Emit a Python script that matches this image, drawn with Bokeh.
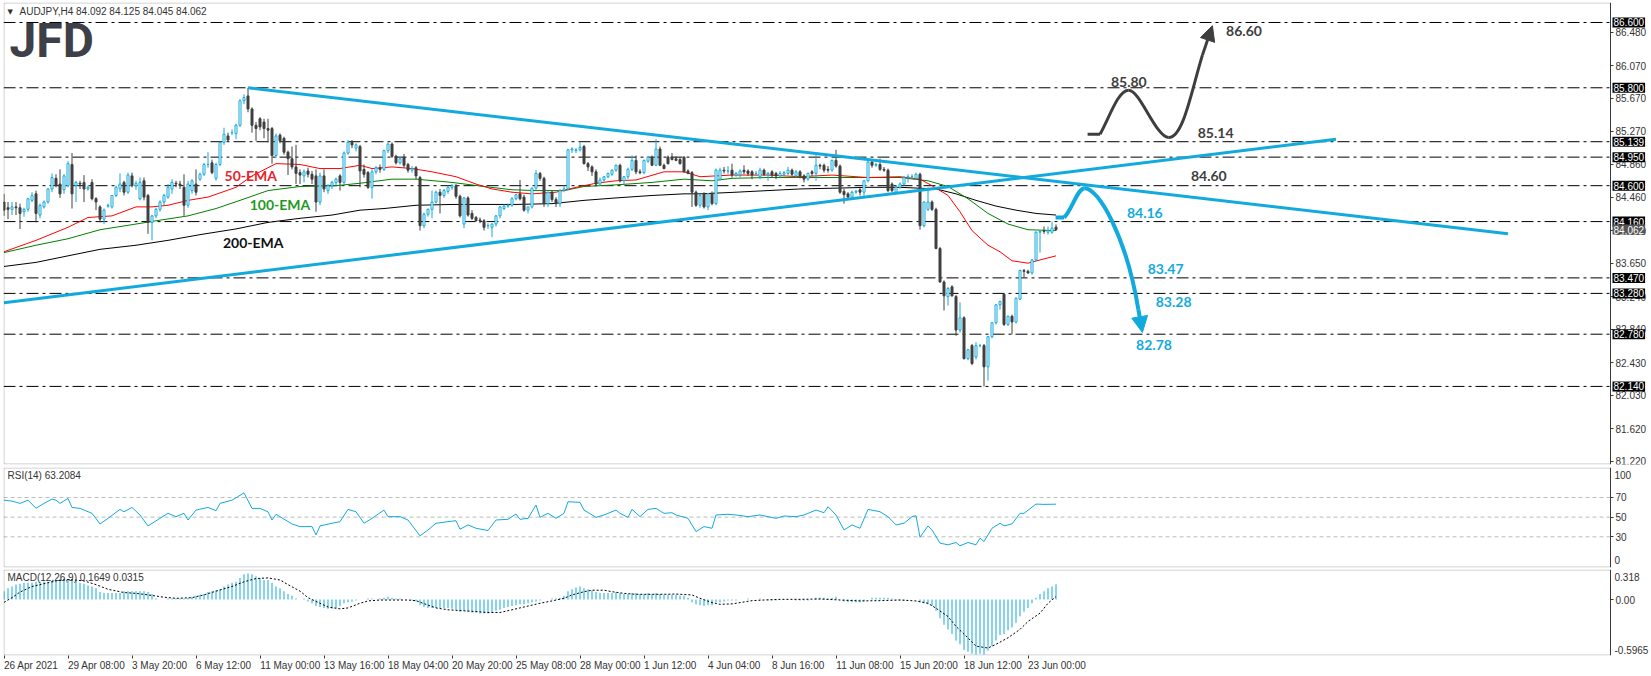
from bokeh.plotting import figure
from bokeh.models import (ColumnDataSource, Label, Range1d, FixedTicker, LinearAxis,
                          PrintfTickFormatter, Arrow, NormalHead, BoxAnnotation)
from bokeh.layouts import column
from bokeh.embed import file_html
from bokeh.resources import INLINE

# ---------------- data (AUDJPY H4) ----------------
opens = [84.40,84.33,84.31,84.34,84.33,84.28,84.31,84.42,84.50,84.24,
         84.34,84.40,84.56,84.69,84.62,84.55,84.60,84.86,84.60,84.63,
         84.64,84.56,84.64,84.44,84.34,84.19,84.35,84.34,84.48,84.56,
         84.64,84.52,84.72,84.60,84.44,84.66,84.48,84.15,84.23,84.31,
         84.40,84.46,84.56,84.63,84.62,84.58,84.36,84.54,84.62,84.68,
         84.74,84.86,84.88,84.69,84.86,85.13,85.21,85.25,85.24,85.34,
         85.64,85.70,85.54,85.34,85.42,85.38,85.30,85.30,84.97,85.22,
         85.18,85.01,84.93,84.83,84.76,84.72,84.78,84.74,84.72,84.40,
         84.72,84.54,84.60,84.64,84.72,84.64,85.00,85.13,85.06,85.08,
         84.80,84.76,84.58,84.77,84.82,84.80,85.03,85.11,84.96,84.88,
         84.95,84.86,84.79,84.82,84.70,84.11,84.25,84.31,84.40,84.52,
         84.48,84.53,84.58,84.60,84.47,84.13,84.45,84.26,84.21,84.18,
         84.17,84.11,84.09,84.13,84.23,84.32,84.35,84.36,84.44,84.50,
         84.46,84.30,84.34,84.57,84.75,84.69,84.38,84.52,84.43,84.38,
         84.54,84.56,85.04,85.03,85.04,85.08,84.87,84.83,84.77,84.62,
         84.67,84.71,84.74,84.79,84.85,84.66,84.71,84.80,84.91,84.77,
         84.76,84.90,84.95,84.85,85.05,84.85,84.95,84.95,84.93,84.92,
         84.95,84.78,84.76,84.52,84.36,84.50,84.34,84.50,84.38,84.68,
         84.79,84.78,84.79,84.73,84.73,84.79,84.78,84.77,84.75,84.71,
         84.79,84.73,84.77,84.75,84.72,84.74,84.75,84.79,84.72,84.77,
         84.72,84.68,84.77,84.75,84.85,84.85,84.80,84.79,84.91,84.84,
         84.53,84.50,84.46,84.52,84.55,84.52,84.66,84.89,84.85,84.86,
         84.80,84.79,84.62,84.52,84.58,84.62,84.70,84.71,84.69,84.74,
         84.11,84.31,84.40,84.31,83.83,83.42,83.24,83.36,83.24,82.83,
         82.98,82.48,82.64,82.50,82.64,82.64,82.38,82.75,82.92,83.14,
         83.27,82.90,83.00,82.93,83.21,83.56,83.55,83.53,83.69,84.03,
         84.05,84.03,84.03,84.092]
highs = [84.50,84.40,84.40,84.40,84.38,84.33,84.45,84.52,84.54,84.38,
         84.42,84.57,84.75,84.74,84.80,84.74,84.90,85.00,84.66,84.66,
         84.73,84.60,84.68,84.46,84.36,84.32,84.38,84.48,84.60,84.75,
         84.66,84.76,84.76,84.66,84.70,84.70,84.50,84.24,84.33,84.42,
         84.50,84.62,84.68,84.66,84.66,84.74,84.66,84.68,84.80,84.76,
         84.88,85.01,84.92,84.88,85.14,85.31,85.25,85.29,85.36,85.66,
         85.72,85.80,85.56,85.38,85.44,85.42,85.42,85.32,85.24,85.24,
         85.20,85.03,85.08,85.10,84.80,84.80,84.82,84.78,84.80,84.76,
         84.80,84.62,84.66,84.70,84.74,85.02,85.16,85.16,85.12,85.10,
         84.86,84.78,84.80,84.84,84.86,85.04,85.13,85.13,84.98,84.95,
         84.99,84.88,84.84,84.84,84.72,84.27,84.32,84.54,84.54,84.56,
         84.56,84.60,84.62,84.62,84.49,84.46,84.47,84.30,84.23,84.21,
         84.19,84.14,84.14,84.24,84.35,84.37,84.38,84.46,84.50,84.67,
         84.49,84.34,84.58,84.79,84.77,84.71,84.52,84.54,84.46,84.56,
         84.60,85.05,85.07,85.06,85.13,85.10,84.89,84.85,84.80,84.70,
         84.72,84.76,84.80,84.86,84.87,84.72,84.82,84.97,84.97,84.80,
         84.92,84.96,84.97,85.17,85.08,84.87,84.97,85.00,84.96,84.95,
         84.96,84.80,84.78,84.54,84.50,84.52,84.51,84.53,84.81,84.82,
         84.83,84.84,84.87,84.77,84.80,84.85,84.80,84.79,84.78,84.82,
         84.81,84.77,84.79,84.77,84.78,84.78,84.83,84.81,84.79,84.79,
         84.74,84.76,84.79,85.01,84.87,84.87,84.84,84.92,85.04,84.86,
         84.56,84.52,84.54,84.55,84.57,84.67,84.90,84.91,84.88,84.93,
         84.83,84.81,84.64,84.60,84.64,84.72,84.74,84.74,84.76,84.76,
         84.41,84.58,84.42,84.33,83.85,83.44,83.36,83.38,83.26,83.17,
         83.00,82.60,82.66,82.68,82.66,82.66,82.76,82.93,83.15,83.19,
         83.28,83.01,83.02,83.23,83.57,83.58,83.57,83.70,84.04,84.05,
         84.10,84.10,84.16,84.125]
lows = [84.23,84.19,84.24,84.24,84.07,84.22,84.28,84.40,84.15,84.20,
        84.32,84.38,84.52,84.58,84.45,84.50,84.58,84.32,84.40,84.56,
        84.40,84.54,84.42,84.30,84.15,84.13,84.33,84.32,84.46,84.52,
        84.48,84.50,84.58,84.55,84.42,84.42,84.01,83.93,84.20,84.28,
        84.36,84.44,84.50,84.58,84.56,84.23,84.33,84.50,84.48,84.66,
        84.72,84.82,84.74,84.66,84.84,85.10,85.14,85.22,85.17,85.32,
        85.60,85.50,85.25,85.15,85.28,85.18,85.13,84.87,84.94,85.12,
        84.98,84.73,84.80,84.62,84.62,84.64,84.70,84.62,84.28,84.36,
        84.52,84.50,84.56,84.60,84.54,84.62,84.98,85.06,85.02,84.58,
        84.70,84.56,84.44,84.74,84.76,84.78,85.00,84.94,84.86,84.86,
        84.82,84.76,84.76,84.68,84.05,84.08,84.22,84.20,84.38,84.26,
        84.45,84.50,84.55,84.44,84.21,84.08,84.22,84.18,84.16,84.14,
        84.05,84.07,83.97,84.10,84.20,84.30,84.33,84.34,84.42,84.42,
        84.28,84.26,84.32,84.55,84.66,84.34,84.34,84.40,84.34,84.34,
        84.52,84.54,85.00,85.00,85.02,84.86,84.78,84.72,84.60,84.60,
        84.65,84.69,84.72,84.77,84.64,84.62,84.68,84.78,84.74,84.74,
        84.74,84.88,84.84,84.84,84.84,84.80,84.86,84.91,84.90,84.86,
        84.76,84.74,84.34,84.34,84.33,84.32,84.30,84.36,84.36,84.66,
        84.75,84.74,84.70,84.71,84.70,84.74,84.72,84.68,84.72,84.68,
        84.72,84.66,84.70,84.68,84.70,84.72,84.73,84.72,84.70,84.69,
        84.64,84.66,84.72,84.66,84.80,84.76,84.76,84.77,84.82,84.50,
        84.38,84.44,84.44,84.50,84.48,84.46,84.64,84.82,84.83,84.78,
        84.77,84.52,84.52,84.50,84.56,84.60,84.64,84.68,84.67,84.06,
        84.09,84.29,84.29,83.82,83.41,83.07,83.13,83.24,82.76,82.80,
        82.47,82.46,82.40,82.47,82.62,82.14,82.21,82.73,82.90,83.08,
        82.88,82.88,82.78,82.91,83.20,83.48,83.52,83.51,83.67,83.78,
        84.01,84.00,84.01,84.045]
closes = [84.30,84.31,84.34,84.33,84.26,84.31,84.44,84.48,84.26,84.36,
          84.40,84.56,84.70,84.60,84.50,84.72,84.87,84.50,84.64,84.62,
          84.56,84.58,84.44,84.40,84.19,84.30,84.36,84.48,84.58,84.62,
          84.52,84.73,84.60,84.63,84.64,84.46,84.15,84.23,84.31,84.40,
          84.48,84.58,84.64,84.62,84.60,84.36,84.62,84.66,84.52,84.74,
          84.86,84.86,84.76,84.86,85.13,85.23,85.16,85.25,85.34,85.64,
          85.68,85.54,85.34,85.30,85.32,85.30,85.28,84.97,85.21,85.15,
          85.01,84.93,84.83,84.75,84.73,84.77,84.74,84.68,84.40,84.72,
          84.56,84.60,84.64,84.68,84.64,85.00,85.13,85.10,85.10,84.78,
          84.74,84.58,84.77,84.82,84.80,85.03,85.11,84.96,84.88,84.93,
          84.85,84.79,84.81,84.72,84.11,84.25,84.31,84.40,84.52,84.48,
          84.54,84.58,84.60,84.47,84.23,84.45,84.24,84.20,84.17,84.17,
          84.09,84.11,84.13,84.23,84.34,84.35,84.36,84.44,84.49,84.44,
          84.30,84.34,84.57,84.75,84.69,84.38,84.52,84.43,84.38,84.54,
          84.56,85.04,85.05,85.04,85.07,84.87,84.83,84.77,84.62,84.67,
          84.71,84.75,84.79,84.85,84.66,84.71,84.80,84.91,84.77,84.76,
          84.91,84.95,84.85,85.05,84.85,84.81,84.87,84.92,84.91,84.87,
          84.77,84.75,84.52,84.36,84.48,84.34,84.50,84.38,84.79,84.79,
          84.78,84.78,84.73,84.75,84.78,84.77,84.75,84.73,84.75,84.79,
          84.74,84.75,84.73,84.72,84.75,84.76,84.79,84.74,84.77,84.72,
          84.68,84.75,84.75,84.85,84.84,84.79,84.79,84.91,84.84,84.52,
          84.49,84.46,84.52,84.53,84.52,84.66,84.89,84.85,84.86,84.80,
          84.79,84.54,84.54,84.58,84.62,84.70,84.71,84.71,84.74,84.11,
          84.40,84.40,84.31,83.83,83.42,83.25,83.34,83.25,82.83,82.98,
          82.48,82.59,82.42,82.64,82.64,82.38,82.75,82.92,83.14,83.18,
          82.90,83.00,82.93,83.22,83.56,83.55,83.53,83.69,84.03,84.04,
          84.04,84.05,84.08,84.062]

# moving averages (bar index, value)
ema50_bar = [0,8,16,21,27,33,37,41,46,51,58,62,68,74,79,84,89,92,97,102,107,113,118,122,127,132,
             138,143,148,153,158,165,170,174,182,191,199,207,216,224,229,232,236,239,242,246,249,
             252,256,259,263]
ema50_val = [83.79,83.93,84.09,84.21,84.23,84.34,84.34,84.36,84.42,84.46,84.58,84.72,84.87,84.86,
             84.81,84.81,84.85,84.81,84.83,84.81,84.77,84.71,84.62,84.56,84.52,84.50,84.52,84.58,
             84.63,84.66,84.67,84.77,84.77,84.71,84.73,84.73,84.71,84.73,84.70,84.71,84.68,84.60,
             84.48,84.28,84.05,83.87,83.79,83.68,83.65,83.69,83.74]
ema100_bar = [0,8,16,24,33,38,46,53,59,66,74,83,89,97,103,112,120,127,133,140,145,153,162,170,177,
              182,191,199,208,216,224,231,236,241,246,251,256,263]
ema100_val = [83.78,83.87,83.95,84.06,84.13,84.17,84.23,84.32,84.42,84.54,84.59,84.60,84.63,84.68,
              84.68,84.64,84.59,84.55,84.54,84.54,84.59,84.61,84.64,84.68,84.66,84.69,84.70,84.70,
              84.70,84.70,84.70,84.66,84.59,84.44,84.26,84.13,84.06,84.05]
ema200_bar = [0,8,16,24,33,41,49,58,66,74,82,89,95,103,112,120,128,137,145,153,162,170,174,183,191,
              199,208,216,224,233,238,243,248,253,258,263]
ema200_val = [83.61,83.66,83.74,83.82,83.87,83.93,84.00,84.07,84.15,84.20,84.24,84.30,84.32,84.36,
              84.37,84.37,84.37,84.38,84.42,84.45,84.48,84.50,84.50,84.52,84.54,84.56,84.57,84.58,
              84.58,84.56,84.50,84.42,84.35,84.30,84.26,84.24]

# RSI(14) (bar index, value)
rsi_bar = [0,2,4,6,8,10,12,13,14,16,17,19,22,24,26,29,30,32,34,36,39,41,43,45,46,48,51,53,54,57,58,
           60,62,64,66,67,68,72,74,77,78,79,82,84,86,88,90,92,95,96,99,101,104,106,108,111,113,114,
           116,118,121,123,126,128,129,131,133,134,136,138,140,141,144,145,148,150,153,154,156,157,
           159,161,163,165,167,168,171,173,175,177,178,181,183,186,189,191,193,195,198,200,203,205,
           206,208,210,212,214,216,219,221,223,225,227,228,229,231,232,234,236,238,239,241,243,244,
           245,247,249,250,252,254,255,258,260,263]
rsi_val = [67.3,66.3,64.0,67.3,59.0,64.0,68.3,67.3,64.0,69.0,59.9,58.9,53.9,43.1,48.8,57.9,55.5,59.9,
           52.2,41.1,48.8,53.9,50.5,53.9,47.1,57.2,59.9,56.6,64.0,67.3,69.7,74.7,58.9,58.9,55.5,47.1,
           52.9,43.1,40.4,40.4,32.0,41.1,43.8,45.4,57.9,55.5,43.8,48.8,57.2,50.5,50.5,47.1,31.0,37.0,
           43.8,45.4,46.4,37.7,42.1,38.7,36.4,47.1,47.8,53.2,47.8,48.8,62.3,49.8,53.9,48.8,53.9,65.7,
           65.0,57.2,49.8,52.2,57.2,53.9,49.8,57.9,50.5,57.9,58.9,53.9,54.5,52.2,48.8,35.3,40.4,38.7,
           52.2,52.9,52.2,50.5,52.2,50.5,48.8,51.2,50.5,52.2,57.2,54.5,60.6,52.2,37.0,42.1,38.7,57.9,
           55.5,50.5,42.1,43.8,50.5,51.5,29.6,41.1,37.0,23.6,21.9,24.2,20.9,24.2,21.9,28.6,25.3,38.7,
           43.8,41.1,43.1,53.9,53.9,63.3,63.0,63.2]
rsi_levels = [70, 50, 30]

# MACD(12,26,9): main line as histogram (one value per bar) and signal line
macd_hist = [0.09,0.12,0.14,0.16,0.17,0.18,0.18,0.18,0.19,0.19,0.19,0.19,0.20,0.21,
             0.22,0.22,0.22,0.21,0.20,0.18,0.17,0.15,0.14,0.12,0.08,
             0.07,0.07,0.07,0.07,0.07,0.09,0.09,0.09,0.09,0.09,0.09,0.08,0.06,
             0.01,0.00,0.00,0.01,0.01,0.01,0.01,0.01,0.02,0.03,
             0.04,0.05,0.06,0.08,0.09,0.10,0.11,0.14,0.16,0.18,0.19,0.23,0.27,0.28,
             0.27,0.25,0.23,0.21,0.21,0.18,0.14,0.12,0.09,0.06,0.04,0.01,0.00,0.01,
             -0.02,-0.04,-0.07,-0.08,-0.09,-0.10,-0.10,-0.09,-0.07,-0.04,-0.03,-0.02,-0.01,0.00,
             0.00,0.01,0.01,0.00,0.01,0.02,0.03,0.02,0.01,0.01,0.00,0.00,-0.01,-0.02,
             -0.06,-0.08,-0.09,-0.09,-0.09,-0.09,-0.09,-0.09,-0.10,-0.11,-0.13,-0.12,-0.13,-0.14,
             -0.14,-0.15,-0.15,-0.15,-0.14,-0.12,-0.11,
             -0.09,-0.08,-0.07,-0.06,-0.05,-0.05,-0.04,-0.03,-0.02,
             -0.01,0.00,0.00,0.01,0.01,0.02,0.04,0.09,0.11,0.13,0.14,0.12,0.11,0.10,0.08,0.07,
             0.07,0.07,0.07,0.08,0.07,0.06,0.06,0.07,0.07,0.06,0.06,0.07,0.06,0.07,0.06,0.05,
             0.05,0.05,0.05,0.04,0.04,0.02,
             -0.03,-0.05,-0.06,-0.07,-0.06,-0.06,-0.03,-0.03,-0.02,-0.01,-0.01,-0.01,
             0.00,0.00,0.01,0.00,0.00,0.01,0.00,-0.01,-0.01,-0.01,0.00,0.00,0.00,0.00,-0.01,
             -0.01,-0.01,-0.01,0.00,0.02,0.02,0.02,0.01,0.02,0.03,0.00,-0.02,-0.03,-0.03,-0.03,
             -0.03,-0.02,0.00,0.02,0.02,0.02,0.02,0.02,0.01,-0.01,-0.01,-0.01,0.00,0.00,0.00,
             -0.03,-0.04,-0.05,-0.07,-0.12,-0.20,-0.27,-0.32,-0.37,-0.44,-0.48,-0.54,-0.56,-0.58,
             -0.59,-0.58,-0.59,
             -0.55,-0.50,-0.44,-0.38,-0.37,-0.33,-0.30,-0.25,-0.18,-0.13,-0.09,-0.04,0.02,0.06,
             0.09,0.12,0.14,0.165]
signal_bar = [0,2,4,7,10,13,16,20,23,26,30,33,36,40,43,47,50,53,57,60,63,66,69,71,74,76,79,81,84,86,
              89,91,94,97,101,103,106,108,111,114,118,121,124,126,129,131,134,137,140,142,145,147,
              150,152,155,158,162,165,168,172,174,177,179,182,184,187,190,194,199,204,209,214,219,
              224,228,231,233,236,238,241,243,246,248,251,254,256,259,261,263]
signal_val = [-0.03,0.02,0.08,0.14,0.17,0.20,0.215,0.20,0.16,0.11,0.075,0.066,0.05,0.025,0.013,0.02,
              0.05,0.09,0.14,0.19,0.225,0.232,0.21,0.16,0.09,0.02,-0.04,-0.08,-0.10,-0.09,-0.04,
              -0.015,-0.005,-0.005,-0.005,-0.012,-0.06,-0.09,-0.11,-0.118,-0.129,-0.139,-0.139,-0.12,
              -0.09,-0.07,-0.04,-0.015,0.013,0.049,0.084,0.10,0.10,0.084,0.066,0.056,0.056,0.056,
              0.059,0.049,0.013,-0.033,-0.051,-0.047,-0.033,-0.012,-0.005,0.002,0.002,0.006,-0.005,
              -0.015,-0.012,-0.005,-0.015,-0.04,-0.093,-0.182,-0.288,-0.412,-0.50,-0.52,-0.48,-0.41,
              -0.32,-0.235,-0.146,-0.04,0.0315]

# horizontal levels, price-axis ticks and time labels
levels = [86.600, 85.800, 85.139, 84.950, 84.600, 84.160, 83.470, 83.280, 82.780, 82.140]
last_price = 84.062
price_ticks = [86.48, 86.07, 85.67, 85.27, 84.86, 84.46, 84.05, 83.65, 83.24, 82.84, 82.43, 82.03, 81.62, 81.22]
time_tick_bars = [0, 16, 32, 48, 64, 80, 96, 112, 128, 144, 160, 176, 192, 208, 224, 240, 256]
time_labels = ["26 Apr 2021", "29 Apr 08:00", "3 May 20:00", "6 May 12:00", "11 May 00:00",
               "13 May 16:00", "18 May 04:00", "20 May 20:00", "25 May 08:00", "28 May 00:00",
               "1 Jun 12:00", "4 Jun 04:00", "8 Jun 16:00", "11 Jun 08:00", "15 Jun 20:00",
               "18 Jun 12:00", "23 Jun 00:00"]

# trendlines (bar index, price)
down_trend_bar = [61, 376]
down_trend_val = [85.80, 84.01]
up_trend_bar = [0, 333]
up_trend_val = [83.165, 85.17]

# scenario paths (bar index, price)
blk_flat_bar = [270.9, 274.0]
blk_flat_val = [85.23, 85.23]
blk_bez = dict(x0=[274.0, 281.2, 291.2], y0=[85.23, 85.77, 85.19],
               x1=[281.2, 291.2, 299.6], y1=[85.77, 85.19, 86.20],
               cx0=[276.5, 284.0, 294.8], cy0=[85.45, 85.77, 85.19],
               cx1=[278.5, 288.0, 296.8], cy1=[85.77, 85.19, 85.75])
blk_arrow = [299.6, 86.20, 302.1, 86.56]
blu_flat_bar = [262.9, 265.0]
blu_flat_val = [84.21, 84.21]
blu_bez = dict(x0=[265.0, 270.2], y0=[84.21, 84.57],
               x1=[270.2, 283.6], y1=[84.57, 83.08],
               cx0=[267.0, 273.5], cy0=[84.30, 84.57],
               cx1=[268.3, 280.5], cy1=[84.57, 84.00])
blu_arrow = [283.6, 83.08, 284.6, 82.80]

dark_notes = [("86.60", 310.0, 86.49), ("85.80", 281.2, 85.87), ("85.14", 302.9, 85.24), ("84.60", 301.2, 84.72)]
blue_notes = [("84.16", 285.2, 84.26), ("83.47", 290.4, 83.58), ("83.28", 292.4, 83.18), ("82.78", 287.5, 82.65)]
ema_notes = [("50-EMA", 61.7, 84.72, "#E8232A"), ("100-EMA", 69.0, 84.37, "#1F9A1F"), ("200-EMA", 62.3, 83.90, "#111111")]

# ---------------- styles ----------------
BULL = "#14A9DC"
BEAR = "#404040"
TREND = "#12AADD"
DARK = "#3E3E3E"
AXIS = "#3a3a3a"
TXT = "#333333"
FONT = "Liberation Sans"
NOTE_FONT = "Lato"

LEFT_PAD = 3            # chart frame starts 3px from the page edge
FRAME_W = 1646          # frame spans the chart area plus the price-label strip
BORDER_PX = 1607        # chart border (price axis line) inside the frame
BAR_PX = 4.0
x_start = -0.125
x_range = Range1d(x_start, x_start + FRAME_W / BAR_PX)
x_border = x_start + BORDER_PX / BAR_PX

def base_fig(frame_h, y0, y1, top_pad, bottom_pad, bottom_axis=False):
    p = figure(frame_width=FRAME_W, frame_height=frame_h, x_range=x_range,
               y_range=Range1d(y0, y1),
               output_backend="svg", toolbar_location=None,
               x_axis_location=None, y_axis_location="right",
               min_border_left=LEFT_PAD, min_border_right=0, min_border_top=top_pad,
               min_border_bottom=bottom_pad)
    p.grid.visible = False
    p.outline_line_color = None
    p.background_fill_color = "white"
    p.border_fill_color = "white"
    half = 0.5 * (y1 - y0) / frame_h
    p.add_layout(BoxAnnotation(left=x_start + 0.5 / BAR_PX, right=x_border,
                               bottom=y0 + half, top=y1 - half,
                               fill_alpha=0, line_color=AXIS, line_width=1))
    ax = p.yaxis[0]
    ax.fixed_location = x_border
    ax.axis_line_color = AXIS
    ax.major_tick_line_color = AXIS
    ax.major_tick_out = 3
    ax.major_tick_in = 0
    ax.minor_tick_line_color = None
    ax.major_label_text_font = FONT
    ax.major_label_text_font_size = "10px"
    ax.major_label_text_color = TXT
    ax.major_label_standoff = 2
    return p

def note(p, **kw):
    p.add_layout(Label(**kw))

# ---------------- main price panel ----------------
MAIN_H = 462
p1 = base_fig(MAIN_H, 81.183, 86.845, top_pad=2, bottom_pad=2)
p1.yaxis[0].ticker = FixedTicker(ticks=price_ticks)
p1.yaxis[0].formatter = PrintfTickFormatter(format="%.3f")

p1.segment(x0=[x_start] * len(levels), x1=[x_border] * len(levels), y0=levels, y1=levels,
           line_color="black", line_width=1, line_dash="12 4 3 4")

# EMAs
p1.line(ema200_bar, ema200_val, line_color="#000000", line_width=1)
p1.line(ema100_bar, ema100_val, line_color="#008000", line_width=1)
p1.line(ema50_bar, ema50_val, line_color="#FF0000", line_width=1)

# candles
N = min(len(opens), len(highs), len(lows), len(closes))
up = [closes[i] >= opens[i] for i in range(N)]
src = ColumnDataSource(dict(
    x=list(range(N)),
    h=[max(highs[i], opens[i], closes[i]) for i in range(N)],
    l=[min(lows[i], opens[i], closes[i]) for i in range(N)],
    top=[max(opens[i], closes[i]) for i in range(N)],
    bot=[min(opens[i], closes[i]) for i in range(N)],
    line=[BULL if u else BEAR for u in up],
    fill=["white" if u else BEAR for u in up],
))
p1.segment(x0="x", y0="l", x1="x", y1="h", line_color="line", line_width=1, source=src)
p1.vbar(x="x", width=0.5, top="top", bottom="bot", fill_color="fill",
        line_color="line", line_width=1, source=src)

# trendlines
p1.line(down_trend_bar, down_trend_val, line_color=TREND, line_width=3)
p1.line(up_trend_bar, up_trend_val, line_color=TREND, line_width=3)

# scenario paths
p1.line(blk_flat_bar, blk_flat_val, line_color=DARK, line_width=3)
p1.bezier(line_color=DARK, line_width=3, **blk_bez)
p1.add_layout(Arrow(end=NormalHead(size=15, fill_color=DARK, line_color=DARK),
                    x_start=blk_arrow[0], y_start=blk_arrow[1], x_end=blk_arrow[2], y_end=blk_arrow[3],
                    line_color=DARK, line_width=3))
p1.line(blu_flat_bar, blu_flat_val, line_color=TREND, line_width=4)
p1.bezier(line_color=TREND, line_width=4, **blu_bez)
p1.add_layout(Arrow(end=NormalHead(size=16, fill_color=TREND, line_color=TREND),
                    x_start=blu_arrow[0], y_start=blu_arrow[1], x_end=blu_arrow[2], y_end=blu_arrow[3],
                    line_color=TREND, line_width=4))

for t, bx, pv in dark_notes:
    note(p1, x=bx, y=pv, text=t, text_font=NOTE_FONT, text_font_style="bold",
         text_font_size="14px", text_color=DARK, text_align="center", text_baseline="middle")
for t, bx, pv in blue_notes:
    note(p1, x=bx, y=pv, text=t, text_font=NOTE_FONT, text_font_style="bold",
         text_font_size="14px", text_color=TREND, text_align="center", text_baseline="middle")
for t, bx, pv, col in ema_notes:
    note(p1, x=bx, y=pv, text=t, text_font=NOTE_FONT, text_font_style="bold",
         text_font_size="14px", text_color=col, text_align="center", text_baseline="middle")

# header, logo
note(p1, x=4, y=MAIN_H - 9, x_units="screen", y_units="screen", text="\u25BC",
     text_font="DejaVu Sans", text_font_size="7px", text_color=TXT, text_baseline="middle")
note(p1, x=16, y=MAIN_H - 9, x_units="screen", y_units="screen",
     text="AUDJPY,H4  84.092 84.125 84.045 84.062",
     text_font=FONT, text_font_size="10px", text_color=TXT, text_baseline="middle")
note(p1, x=6, y=MAIN_H - 38, x_units="screen", y_units="screen", text="JFD",
     text_font="Roboto", text_font_style="bold", text_font_size="48px",
     text_color="#3D4047", text_baseline="middle")

# price boxes on the price scale
for lv in levels:
    note(p1, x=BORDER_PX + 2, y=lv, x_units="screen", text=f"{lv:.3f}",
         text_font=FONT, text_font_size="10px", text_color="white",
         background_fill_color="black", text_align="left", text_baseline="middle", padding=1)
note(p1, x=BORDER_PX + 2, y=last_price, x_units="screen", text=f"{last_price:.3f}",
     text_font=FONT, text_font_size="10px", text_color="white",
     background_fill_color="#555555", text_align="left", text_baseline="middle", padding=1)

# ---------------- RSI panel ----------------
RSI_H = 100
p2 = base_fig(RSI_H, -1.2, 100.5, top_pad=1, bottom_pad=1)
p2.yaxis[0].ticker = FixedTicker(ticks=rsi_levels)
p2.segment(x0=[x_start] * 3, x1=[x_border] * 3, y0=rsi_levels, y1=rsi_levels,
           line_color="#BDBDBD", line_width=1, line_dash="4 3")
p2.line(rsi_bar, rsi_val, line_color=BULL, line_width=1)
note(p2, x=4, y=RSI_H - 8, x_units="screen", y_units="screen", text="RSI(14) 63.2084",
     text_font=FONT, text_font_size="10px", text_color=TXT, text_baseline="middle")
note(p2, x=BORDER_PX + 4, y=RSI_H - 7, x_units="screen", y_units="screen", text="100",
     text_font=FONT, text_font_size="10px", text_color=TXT, text_baseline="middle")
note(p2, x=BORDER_PX + 4, y=8, x_units="screen", y_units="screen", text="0",
     text_font=FONT, text_font_size="10px", text_color=TXT, text_baseline="middle")

# ---------------- MACD panel ----------------
MACD_H = 86
p3 = base_fig(MACD_H, -0.60, 0.322, top_pad=1, bottom_pad=17, bottom_axis=True)
p3.yaxis[0].ticker = FixedTicker(ticks=[0])
p3.yaxis[0].formatter = PrintfTickFormatter(format="%.2f")
p3.vbar(x=list(range(len(macd_hist))), width=0.25, top=macd_hist, bottom=0,
        fill_color=BULL, line_color=None)
p3.line(signal_bar, signal_val, line_color="black", line_width=1, line_dash="2 2")
note(p3, x=4, y=MACD_H - 8, x_units="screen", y_units="screen",
     text="MACD(12,26,9) 0.1649 0.0315",
     text_font=FONT, text_font_size="10px", text_color=TXT, text_baseline="middle")
note(p3, x=BORDER_PX + 4, y=MACD_H - 7, x_units="screen", y_units="screen", text="0.318",
     text_font=FONT, text_font_size="10px", text_color=TXT, text_baseline="middle")
note(p3, x=BORDER_PX + 4, y=6, x_units="screen", y_units="screen", text="-0.5965",
     text_font=FONT, text_font_size="10px", text_color=TXT, text_baseline="middle")

# time axis: minor tick marks at the bars, label text starting at the tick (MT4 style)
CW = {" ": 2.78, ":": 2.78, "A": 6.67, "p": 5.56, "r": 3.33, "M": 8.33, "a": 5.56,
      "y": 5.0, "J": 5.0, "u": 5.56, "n": 5.56}
def text_px(s):
    return sum(CW.get(ch, 5.56) for ch in s)

label_pos = [round(b + text_px(t) / 2.0 / BAR_PX, 3) for b, t in zip(time_tick_bars, time_labels)]
xb = LinearAxis(ticker=FixedTicker(ticks=label_pos, minor_ticks=time_tick_bars),
                major_label_overrides={pos: t for pos, t in zip(label_pos, time_labels)})
xb.axis_line_color = None
xb.major_tick_line_color = None
xb.major_tick_out = 3
xb.major_tick_in = 0
xb.minor_tick_line_color = AXIS
xb.minor_tick_out = 3
xb.minor_tick_in = 0
xb.major_label_text_font = FONT
xb.major_label_text_font_size = "10px"
xb.major_label_text_color = TXT
xb.major_label_standoff = 1
p3.add_layout(xb, "below")

layout = column(p1, p2, p3, spacing=0)
open("out.html", "w").write(file_html(layout, INLINE))
